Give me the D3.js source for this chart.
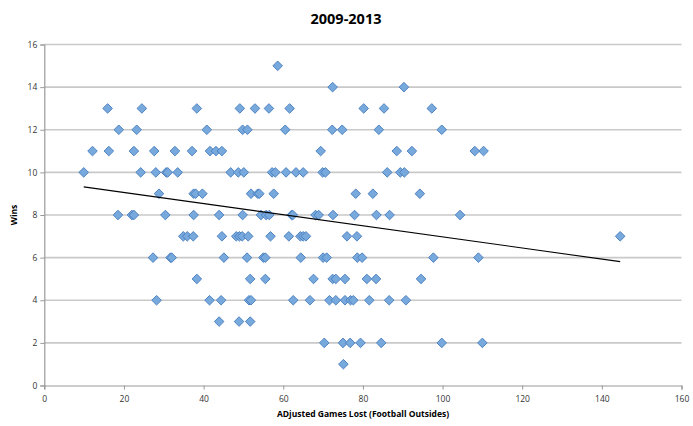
<!DOCTYPE html>
<html>
<head>
<meta charset="utf-8">
<script src="https://cdn.jsdelivr.net/npm/d3@7"></script>
<style>
  html, body { margin: 0; padding: 0; background: #fff; }
  svg { display: block; }
  text { font-family: "Open Sans", "Liberation Sans", sans-serif; }
</style>
</head>
<body>
<svg id="chart" width="693" height="426"></svg>
<script>
// ---- Data: adjusted games lost (x) grouped by wins (y) ----
const title = "2009-2013";
const xLabel = "ADjusted Games Lost (Football Outsides)";
const yLabel = "Wins";
const xTicks = [0, 20, 40, 60, 80, 100, 120, 140, 160];
const yTicks = [0, 2, 4, 6, 8, 10, 12, 14, 16];

const wins15 = [58.6];
const wins14 = [72.4, 90.3];
const wins13 = [15.9, 24.5, 38.3, 49.1, 52.9, 56.4, 61.6, 80.2, 85.3, 97.3];
const wins12 = [18.7, 23.2, 40.8, 49.8, 51.0, 60.5, 72.3, 74.8, 84.0, 99.8];
const wins11 = [12.1, 16.2, 22.5, 27.6, 32.8, 37.1, 41.6, 43.1, 44.6, 69.4, 88.5, 92.3, 108.1, 110.3];
const wins10 = [9.9, 24.2, 28.0, 30.6, 31.0, 33.5, 46.8, 48.7, 50.1, 57.2, 58.0, 60.7, 63.2, 65.0, 69.9, 70.6, 86.1, 89.4, 90.4];
const wins9  = [28.8, 37.5, 38.0, 39.7, 51.9, 53.6, 54.0, 57.6, 78.2, 82.5, 94.3];
const wins8  = [18.5, 22.0, 22.5, 30.4, 37.5, 43.9, 49.8, 54.4, 55.7, 56.5, 62.1, 62.4, 68.1, 68.9, 72.5, 77.9, 83.4, 86.7, 104.4];
const wins7  = [34.9, 35.9, 37.4, 44.6, 48.2, 49.0, 49.7, 51.2, 56.8, 61.4, 64.3, 65.0, 65.7, 76.0, 78.5, 144.6];
const wins6  = [27.3, 31.7, 32.0, 45.1, 50.9, 55.0, 55.5, 64.4, 70.0, 70.9, 78.6, 79.8, 97.7, 109.0];
const wins5  = [38.3, 51.7, 55.5, 67.6, 72.4, 73.2, 75.5, 81.0, 83.3, 94.6];
const wins4  = [28.2, 41.5, 44.4, 51.4, 51.9, 62.5, 66.7, 71.6, 73.2, 75.5, 76.9, 77.6, 81.6, 86.6, 90.8];
const wins3  = [43.9, 48.9, 51.7];
const wins2  = [70.3, 75.0, 76.8, 79.4, 84.6, 99.8, 110.0];
const wins1  = [75.1];

const groups = [
  [15, wins15], [14, wins14], [13, wins13], [12, wins12], [11, wins11], [10, wins10],
  [9, wins9], [8, wins8], [7, wins7], [6, wins6], [5, wins5], [4, wins4],
  [3, wins3], [2, wins2], [1, wins1]
];
const points = [];
groups.forEach(([w, xs]) => xs.forEach(v => points.push({x: v, y: w})));

// ---- Layout ----
const svg = d3.select("#chart");
const mLeft = 44.3, mRight = 681.5, mTop = 44.5, mBottom = 385.5;

const x = d3.scaleLinear().domain([0, 160]).range([mLeft, mRight]);
const y = d3.scaleLinear().domain([0, 16]).range([mBottom, mTop]);

// gridlines
svg.append("g")
  .selectAll("line")
  .data(yTicks.filter(d => d > 0))
  .join("line")
  .attr("x1", mLeft).attr("x2", mRight)
  .attr("y1", d => y(d)).attr("y2", d => y(d))
  .attr("stroke", "#c9c9c9").attr("stroke-width", 1.6);

// x axis
const xAxis = svg.append("g")
  .attr("transform", `translate(0,${mBottom})`)
  .call(d3.axisBottom(x).tickValues(xTicks).tickSize(4).tickPadding(6));
xAxis.select(".domain").attr("stroke", "#999").attr("stroke-width", 1.2);
xAxis.selectAll(".tick line").attr("stroke", "#999");
xAxis.selectAll("text").attr("fill", "#333").style("font-size", "8.5px")
  .style("font-family", "'Open Sans', sans-serif");

// y axis
const yAxis = svg.append("g")
  .attr("transform", `translate(${mLeft},0)`)
  .call(d3.axisLeft(y).tickValues(yTicks).tickSize(4).tickPadding(3));
yAxis.select(".domain").attr("stroke", "#999").attr("stroke-width", 1.2);
yAxis.selectAll(".tick line").attr("stroke", "#999");
yAxis.selectAll("text").attr("fill", "#333").style("font-size", "8.5px")
  .style("font-family", "'Open Sans', sans-serif");

// points (diamonds)
const diamond = d3.symbol().type(d3.symbolSquare).size(46);
svg.append("g")
  .selectAll("path")
  .data(points)
  .join("path")
  .attr("d", diamond)
  .attr("transform", d => `translate(${x(d.x)},${y(d.y)}) rotate(45)`)
  .attr("fill", "#78a9dc")
  .attr("stroke", "#4a7fbf")
  .attr("stroke-width", 0.9);

// linear trendline (least squares from data)
const mx = d3.mean(points, d => d.x), my = d3.mean(points, d => d.y);
const sxy = d3.sum(points, d => (d.x - mx) * (d.y - my));
const sxx = d3.sum(points, d => (d.x - mx) * (d.x - mx));
const slope = sxy / sxx, intercept = my - slope * mx;
const xr = d3.extent(points, d => d.x);
svg.append("path")
  .datum(xr.map(v => ({x: v, y: intercept + slope * v})))
  .attr("d", d3.line().x(d => x(d.x)).y(d => y(d.y)))
  .attr("fill", "none").attr("stroke", "#000").attr("stroke-width", 1.1);

// title and axis labels
svg.append("text")
  .attr("x", 346).attr("y", 24)
  .attr("text-anchor", "middle")
  .style("font-size", "14.5px").style("font-weight", "bold")
  .attr("fill", "#000")
  .text(title);

svg.append("text")
  .attr("x", 363).attr("y", 417)
  .attr("text-anchor", "middle")
  .style("font-size", "8.5px").style("font-weight", "bold")
  .attr("fill", "#000")
  .text(xLabel);

svg.append("text")
  .attr("transform", "translate(17,215) rotate(-90)")
  .attr("text-anchor", "middle")
  .style("font-size", "8.5px").style("font-weight", "bold")
  .attr("fill", "#000")
  .text(yLabel);
</script>
</body>
</html>
